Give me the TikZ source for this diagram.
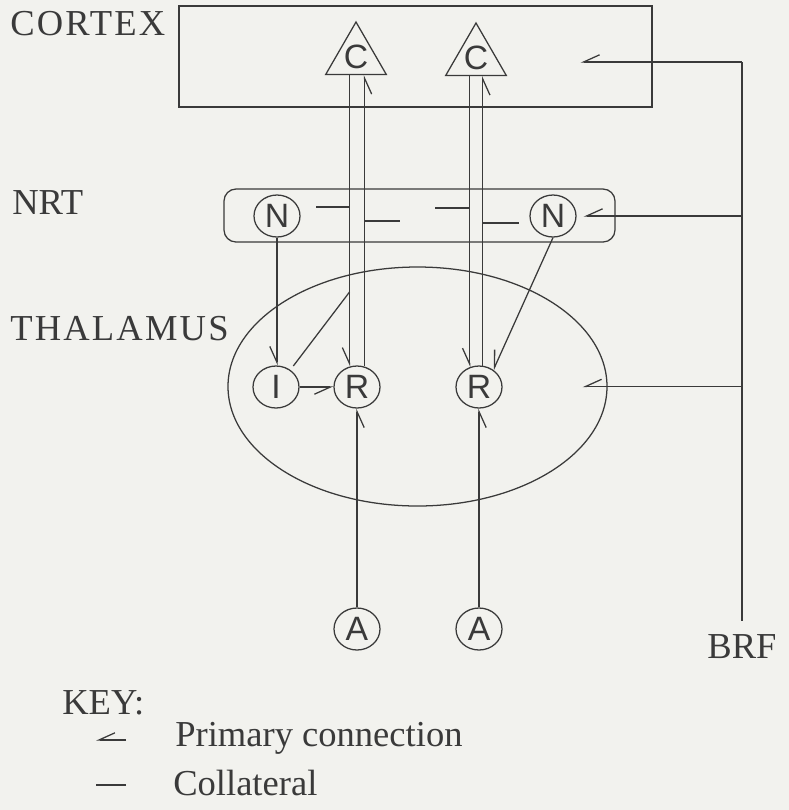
\documentclass[tikz,border=0pt]{standalone}
\usepackage{fontspec}
\setmainfont{Liberation Serif}
\setsansfont{Liberation Sans}
\usetikzlibrary{arrows.meta,positioning,calc,shapes.geometric}
\definecolor{paper}{RGB}{242,242,238}
\definecolor{ink}{RGB}{58,58,58}

\begin{document}
\begin{tikzpicture}[
  font=\fontsize{26}{30}\selectfont,
  >={Straight Barb[harpoon,swap,length=0.4cm,width=0.36cm]},
  region/.style={draw=ink, line width=0.9pt, inner sep=0pt},
  cell/.style={ellipse, draw=ink, line width=0.9pt, minimum width=1.15cm, minimum height=1.05cm, inner sep=0pt, text=ink, font=\fontsize{24}{28}\selectfont\sffamily},
  tri/.style={regular polygon, regular polygon sides=3, draw=ink, line width=0.9pt, minimum size=1.75cm, inner sep=0pt, text=ink, font=\fontsize{24}{28}\selectfont\sffamily},
  lbl/.style={inner sep=0pt, anchor=west, text=ink},
  wide/.style={lbl, font=\fontsize{26}{30}\selectfont\addfontfeature{LetterSpace=6}},
  prim/.style={->, draw=ink, line width=0.9pt},
  coll/.style={draw=ink, line width=0.9pt}
]

% Page
\fill[paper] (0,0) rectangle (19.725,-20.25);
\useasboundingbox (0,0) rectangle (19.725,-20.25);

% Regions
\node[region, rectangle, minimum width=11.825cm, minimum height=2.525cm] (ctx) at (10.3875,-1.4125) {};
\node[region, rectangle, rounded corners=0.3cm, minimum width=9.775cm, minimum height=1.325cm] (nrt) at (10.4875,-5.3875) {};
\node[region, ellipse, minimum width=9.475cm, minimum height=5.975cm] (thal) at (10.4375,-9.6625) {};

% Region labels
\node[wide] (lctx) at (0.25,-0.6) {CORTEX};
\node[lbl] (lnrt) at (0.3,-5.075) {NRT};
\node[wide] (lthal) at (0.25,-8.225) {THALAMUS};

% Cells
\node[tri] (c1) at (8.9,-1.425) {C};
\node[tri] (c2) at (11.9,-1.45) {C};
\node[cell] (n1) at (6.925,-5.4) {N};
\node[cell] (n2) at (13.825,-5.4) {N};
\node[cell] (i1) at (6.9,-9.675) {I};
\node[cell] (r1) at (8.925,-9.675) {R};
\node[cell] (r2) at (11.975,-9.675) {R};
\node[cell] (a1) at (8.925,-15.725) {A};
\node[cell] (a2) at (11.975,-15.725) {A};
\node[lbl, anchor=center, inner sep=0.35cm] (brf) at (18.55,-16.175) {BRF};

% Cortico-thalamic loops
\draw[prim] (c1.south -| r1.110) -- (r1.110);
\draw[prim] (r1.70) -- (r1.70 |- c1.south);
\draw[prim] (c2.south -| r2.115) -- (r2.115);
\draw[prim] (r2.80) -- (r2.80 |- c2.south);

% Collaterals into NRT
\foreach \ln/\yy/\dx [count=\k] in {r1.110/-5.175/-0.85, r1.70/-5.525/0.9, r2.115/-5.2/-0.875, r2.80/-5.575/0.9}{
  \coordinate (k\k) at (\ln |- 0,\yy);
  \coordinate (ke\k) at ([xshift=\dx cm]k\k);
  \draw[coll] (k\k) -- (ke\k);
}
\coordinate (k5) at (r1.110 |- 0,-7.3);
\draw[coll, shorten >=0.12cm] (k5) -- (i1.50);

% Thalamic inputs
\draw[prim] (n1.south) -- (n1.south |- i1.north);
\draw[prim] (n2.south) -- (r2.50);
\draw[prim] (i1) -- (r1);
\draw[prim] (a1) -- (r1);
\draw[prim] (a2) -- (r2);

% BRF projections
\coordinate (brftop) at (brf.north |- 0,-1.55);
\coordinate (ctxtip) at ([xshift=-1.8cm]ctx.east |- brftop);
\draw[coll] (brf.north) -- (brftop);
\draw[prim] (brftop) -- (ctxtip);
\draw[prim, shorten >=0.175cm] (brf.north |- n2.east) -- (n2.east);
\draw[prim] (brf.north |- thal.east) -- ([xshift=-0.625cm]thal.east);

% Key
\node[lbl] (key) at (1.55,-17.575) {KEY:};
\node[lbl] (kp) at (4.375,-18.45) {Primary connection};
\node[lbl] (kc) at (4.325,-19.575) {Collateral};
\coordinate (kp1) at (3.15,-18.5);
\coordinate (kp2) at (2.4,-18.5);
\coordinate (kc1) at (3.15,-19.625);
\coordinate (kc2) at (2.4,-19.625);
\draw[prim] (kp1) -- (kp2);
\draw[coll] (kc1) -- (kc2);

\end{tikzpicture}
\end{document}
